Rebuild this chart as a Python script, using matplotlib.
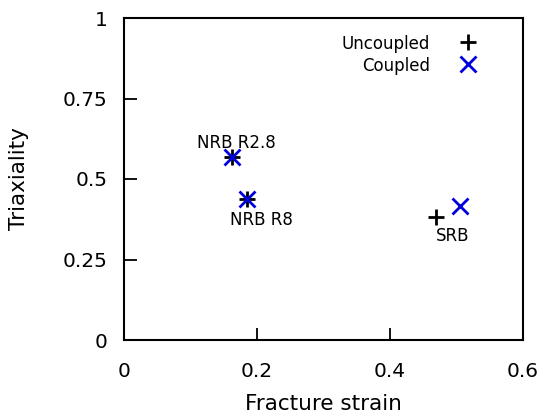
import matplotlib
matplotlib.use("Agg")
import matplotlib.pyplot as plt

samples = ["NRB R2.8", "NRB R8", "SRB"]
uncoupled_strain = [0.162, 0.185, 0.469]
uncoupled_triax = [0.567, 0.438, 0.383]
coupled_strain = [0.163, 0.185, 0.505]
coupled_triax = [0.567, 0.438, 0.416]
label_pos = [(0.1695, 0.619), (0.207, 0.380), (0.494, 0.328)]
xticks = [0, 0.2, 0.4, 0.6]
xticklabels = ["0", "0.2", "0.4", "0.6"]
yticks = [0, 0.25, 0.5, 0.75, 1]
yticklabels = ["0", "0.25", "0.5", "0.75", "1"]

plt.rcParams['font.family'] = ['DejaVu Sans']
fig = plt.figure(figsize=(5.5, 4.17), dpi=100)
ax = fig.add_axes([124/550, 1-340/417, (523-124)/550, (340-18)/417])

ax.plot(uncoupled_strain, uncoupled_triax, linestyle='none', marker='+',
        color='black', markersize=11.5, markeredgewidth=2.0)
ax.plot(coupled_strain, coupled_triax, linestyle='none', marker='x',
        color='#0000dd', markersize=12, markeredgewidth=2.0)

for name, (lx, ly) in zip(samples, label_pos):
    ax.text(lx, ly, name, ha='center', va='center_baseline', fontsize=12)

# legend (manual, gnuplot style: text right-aligned, sample to the right)
legend_entries = [("Uncoupled", '+', 'black', 11.5, 0.925),
                  ("Coupled", 'x', '#0000dd', 12, 0.857)]
for txt, mk, col, ms, yy in legend_entries:
    ax.text(0.767, yy, txt, ha='right', va='center_baseline', fontsize=12,
            transform=ax.transAxes)
    ax.plot([0.862], [yy], marker=mk, color=col, markersize=ms,
            markeredgewidth=2.0, linestyle='none', transform=ax.transAxes,
            clip_on=False)

ax.set_xlim(0, 0.6)
ax.set_ylim(0, 1)
ax.set_xticks(xticks)
ax.set_xticklabels(xticklabels)
ax.set_yticks(yticks)
ax.set_yticklabels(yticklabels)
ax.tick_params(direction='in', length=9, width=1.3, labelsize=14.5,
               top=False, right=False)
ax.tick_params(axis='x', pad=16)
ax.tick_params(axis='y', pad=12)
for s in ax.spines.values():
    s.set_linewidth(1.5)
ax.set_xlabel('Fracture strain', fontsize=15.5, labelpad=9)
ax.set_ylabel('Triaxiality', fontsize=15.5, labelpad=24)

fig.savefig('out.png', dpi=100)
